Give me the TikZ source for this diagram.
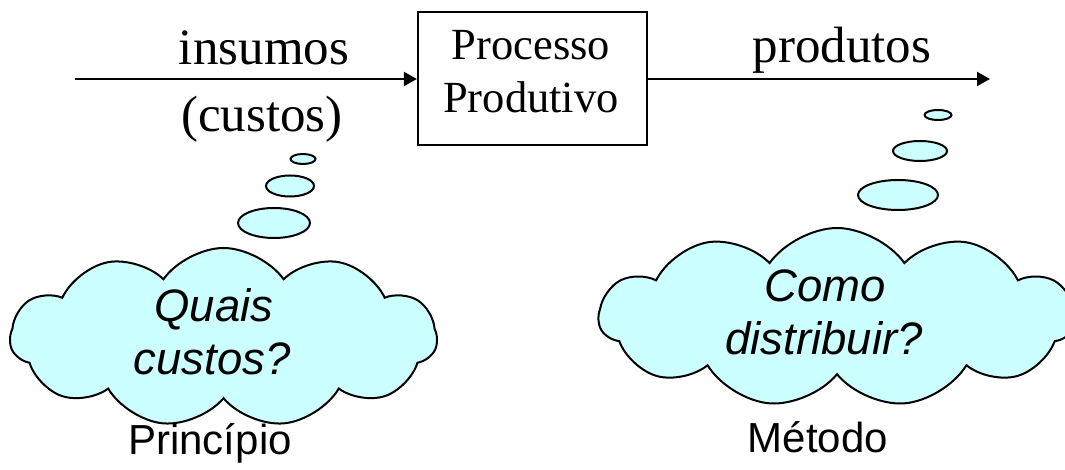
\documentclass[tikz,border=0pt]{standalone}
\usepackage{fontspec}
\setmainfont{Liberation Serif}
\setsansfont{Liberation Sans}
\usetikzlibrary{arrows.meta, shapes.symbols}
\definecolor{nuvem}{HTML}{CCFFFF}

\begin{document}
\begin{tikzpicture}[x=1pt, y=1pt,
	fluxo/.style={line width=2pt, -{Triangle[length=13pt, width=14pt]}},
	rotulo/.style={anchor=base, inner sep=0pt, font=\fontsize{51}{60}\selectfont},
	caixa/.style={draw, line width=2.2pt, minimum width=229pt, minimum height=133pt, inner sep=0pt},
	interno/.style={anchor=base, inner sep=0pt, font=\fontsize{44.5}{52}\selectfont},
	nuvemf/.style={cloud, cloud puffs=11, cloud puff arc=110, cloud ignores aspect, draw, line width=2pt, fill=nuvem},
	pergunta/.style={anchor=base, inner sep=0pt, font=\sffamily\itshape\fontsize{45.5}{53}\selectfont},
	legenda/.style={anchor=base, inner sep=0pt, font=\sffamily\fontsize{42}{50}\selectfont},
	bolha/.style={draw, line width=2pt, fill=nuvem}]
	\useasboundingbox (0,0) rectangle (1065,470);
	% processo
	\node [caixa] (P) at (532.5,391.5) {};
	\node [interno] (p1) at (531,410) {Processo};
	\node [interno] (p2) at (531,357) {Produtivo};
	\coordinate (I) at (75,391);
	\coordinate (O) at (990,391);
	\draw [fluxo] (I) -- (I -| P.west);
	\draw [fluxo] (I -| P.east) -- (O);
	\node [rotulo] (ins) at (264,405) {insumos};
	\node [rotulo] (cus) at (262,338) {(custos)};
	\node [rotulo] (prd) at (842,407) {produtos};
	% bolhas
	\foreach \x/\y/\a/\b in {303/311/12.5/5, 290/284/24/10.5, 274/247/36/15, 938/355/13.5/5, 920/319/27/10, 898/275/40/15}{
		\draw [bolha] (\x,\y) ellipse (\a pt and \b pt);
	}
	% nuvens
	\node [nuvemf, minimum width=427pt, minimum height=179pt] (N1) at (223.5,132.5) {};
	\node [nuvemf, minimum width=476pt, minimum height=179pt] (N2) at (837,152.5) {};
	\node [pergunta] (q1) at (214,148) {Quais};
	\node [pergunta] (q2) at (212,95) {custos?};
	\node [pergunta] (q3) at (825,168) {Como};
	\node [pergunta] (q4) at (824,115) {distribuir?};
	\node [legenda] (pr) at (210,15) {Princípio};
	\node [legenda] (me) at (818,17) {Método};
\end{tikzpicture}
\end{document}
